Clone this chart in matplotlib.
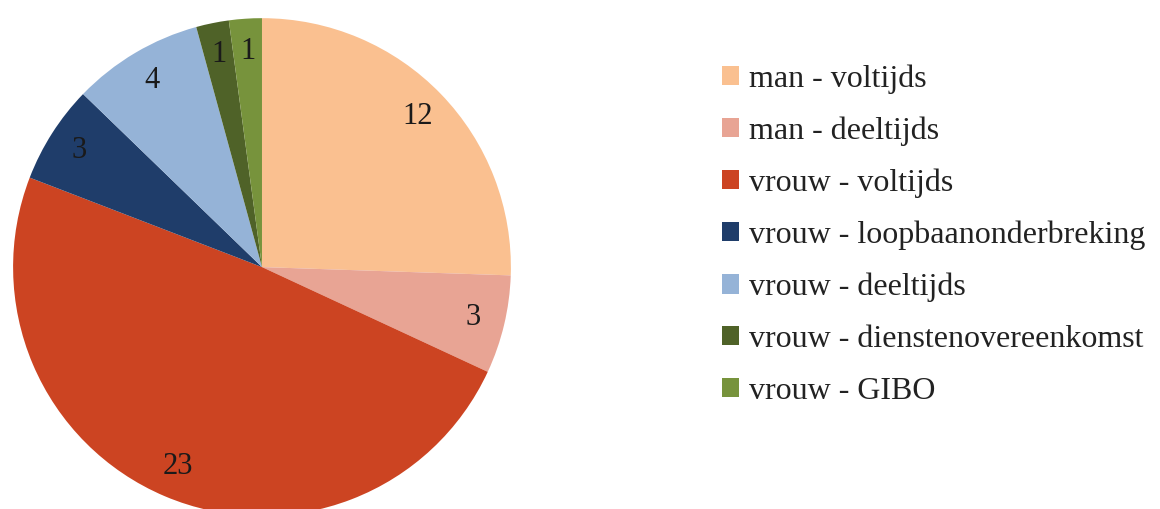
import matplotlib
matplotlib.use("Agg")
import matplotlib.pyplot as plt

categories = ["man - voltijds", "man - deeltijds", "vrouw - voltijds",
              "vrouw - loopbaanonderbreking", "vrouw - deeltijds",
              "vrouw - dienstenovereenkomst", "vrouw - GIBO"]
values = [12, 3, 23, 3, 4, 1, 1]
colors = ["#FAC090", "#E8A494", "#CC4422", "#1F3D6A", "#95B3D7", "#4F6228", "#77933C"]

plt.rcParams['font.family'] = ['Liberation Serif', 'DejaVu Serif']

fig = plt.figure(figsize=(11.6, 5.09), dpi=100)
ax = fig.add_axes([0.0112, -0.0137, 0.4293, 0.978])
wedges, texts = ax.pie(values, colors=colors, startangle=90, counterclock=False,
                       radius=1.0, labels=[str(v) for v in values],
                       labeldistance=0.87,
                       textprops=dict(fontsize=22, color="#1a1a1a", ha="center", va="center"))
for t in texts:
    t.set_horizontalalignment("center")
    t.set_verticalalignment("center")
ax.set_xlim(-1, 1)
ax.set_ylim(-1, 1)
ax.set_aspect("equal")
ax.axis("off")

leg = fig.legend(wedges, categories, loc="upper left", bbox_to_anchor=(0.622, 0.874),
                 frameon=False, fontsize=23, handlelength=0.55, handleheight=0.55,
                 handletextpad=0.3, labelspacing=0.71, borderaxespad=0, borderpad=0)
for t in leg.get_texts():
    t.set_color("#222222")

fig.savefig("out.png", dpi=100)
